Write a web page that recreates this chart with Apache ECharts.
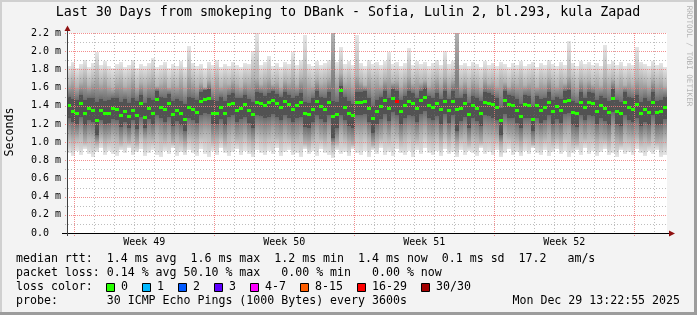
<!DOCTYPE html>
<html><head><meta charset="utf-8">
<script src="https://cdn.jsdelivr.net/npm/echarts@6/dist/echarts.min.js"></script>
<style>html,body{margin:0;padding:0;background:#f3f3f3}#c{width:697px;height:315px}</style>
</head><body><div id="c"></div>
<script>
// ---------------- data ----------------
const titleText = 'Last 30 Days from smokeping to DBank - Sofia, Lulin 2, bl.293, kula Zapad';
const weekLabels = ['Week 49', 'Week 50', 'Week 51', 'Week 52'];
const totalDays = 30;
const colDays = 0.2;          // each column = 4.8 h
const firstDayLine = 0.365;   // first midnight after graph start (days)
const yMax = 2.2;

const median = [
 1.40,1.34,1.32,1.42,1.32,1.37,1.35,1.24,1.35,1.32,
 1.32,1.37,1.36,1.29,1.34,1.28,1.35,1.29,1.42,1.27,
 1.37,1.32,1.47,1.38,1.36,1.43,1.30,1.35,1.31,1.25,
 1.38,1.36,1.33,1.45,1.47,1.48,1.32,1.32,1.38,1.32,
 1.41,1.43,1.35,1.37,1.41,1.35,1.30,1.44,1.43,1.40,
 1.44,1.46,1.42,1.38,1.45,1.41,1.36,1.40,1.44,1.31,
 1.30,1.36,1.45,1.39,1.36,1.44,1.28,1.30,1.57,1.38,
 1.32,1.29,1.44,1.44,1.45,1.37,1.26,1.34,1.39,1.46,
 1.37,1.48,1.45,1.34,1.40,1.45,1.43,1.37,1.46,1.49,
 1.40,1.38,1.43,1.36,1.45,1.35,1.45,1.36,1.37,1.42,
 1.30,1.40,1.37,1.32,1.44,1.43,1.41,1.38,1.24,1.46,
 1.41,1.40,1.35,1.28,1.41,1.40,1.25,1.40,1.35,1.38,
 1.44,1.34,1.39,1.35,1.45,1.46,1.33,1.31,1.44,1.38,
 1.44,1.43,1.34,1.40,1.37,1.33,1.48,1.34,1.32,1.44,
 1.38,1.36,1.41,1.32,1.36,1.33,1.44,1.33,1.34,1.38];

const smokeHi1 = [
 1.84,1.88,1.82,1.86,1.90,1.83,1.87,1.99,1.85,1.89,
 1.84,1.81,1.86,1.88,1.83,1.85,1.90,1.82,1.86,1.84,
 1.87,1.93,1.83,1.85,1.88,1.82,1.86,1.84,1.89,1.83,
 2.06,1.87,1.84,1.86,1.82,1.88,1.85,1.90,1.83,1.86,
 1.84,1.88,1.85,1.83,1.87,1.86,2.00,2.20,1.85,1.88,
 1.95,1.84,1.87,1.83,1.88,1.86,1.99,1.85,1.90,2.18,
 1.86,1.84,1.89,1.85,1.87,1.90,2.20,1.88,2.05,1.86,
 1.89,1.85,2.18,1.87,1.84,1.90,1.86,1.88,1.85,1.89,
 1.99,1.86,1.88,1.84,1.87,2.03,1.85,1.89,1.86,1.88,
 1.84,1.87,1.90,1.85,2.00,1.86,1.89,2.20,1.85,1.87,
 1.84,1.88,1.86,1.83,1.89,1.85,1.87,1.84,1.88,1.86,
 1.83,1.87,1.85,1.89,1.84,1.86,1.88,1.83,1.87,1.85,
 1.90,1.86,1.84,1.88,1.85,2.11,1.87,1.84,1.89,1.86,
 1.88,1.85,1.87,1.84,2.07,1.86,1.89,1.85,1.88,1.84,
 1.87,1.85,2.05,1.88,1.86,1.84,1.89,1.85,1.87,1.83];

const smokeHi2 = [
 1.64,1.68,1.62,1.66,1.70,1.63,1.67,1.72,1.65,1.69,
 1.63,1.60,1.66,1.68,1.62,1.65,1.70,1.61,1.66,1.64,
 1.67,1.71,1.62,1.65,1.68,1.61,1.66,1.63,1.69,1.62,
 1.74,1.67,1.63,1.66,1.61,1.68,1.64,1.70,1.62,1.66,
 1.64,1.68,1.65,1.62,1.67,1.66,1.72,1.70,1.64,1.68,
 1.71,1.64,1.67,1.62,1.68,1.66,1.72,1.64,1.70,1.74,
 1.66,1.63,1.69,1.65,1.67,1.70,2.20,1.68,1.76,1.66,
 1.69,1.64,1.74,1.67,1.63,1.70,1.66,1.68,1.64,1.69,
 1.72,1.66,1.68,1.63,1.67,1.73,1.65,1.69,1.66,1.68,
 1.63,1.67,1.70,1.65,1.72,1.66,1.69,2.20,1.64,1.67,
 1.63,1.68,1.66,1.62,1.69,1.65,1.67,1.63,1.68,1.66,
 1.62,1.67,1.65,1.69,1.63,1.66,1.68,1.62,1.67,1.65,
 1.70,1.66,1.63,1.68,1.65,1.73,1.67,1.63,1.69,1.66,
 1.68,1.64,1.67,1.63,1.72,1.66,1.69,1.64,1.68,1.63,
 1.67,1.64,1.71,1.68,1.66,1.63,1.69,1.65,1.67,1.62];

const smokeHi3 = [
 1.50,1.47,1.46,1.52,1.46,1.49,1.48,1.44,1.47,1.45,
 1.46,1.49,1.48,1.44,1.47,1.43,1.48,1.45,1.52,1.43,
 1.49,1.46,1.56,1.50,1.48,1.53,1.45,1.47,1.45,1.42,
 1.50,1.48,1.46,1.55,1.57,1.58,1.46,1.45,1.50,1.45,
 1.52,1.54,1.48,1.49,1.52,1.47,1.44,1.55,1.54,1.51,
 1.54,1.56,1.53,1.50,1.55,1.52,1.48,1.51,1.54,1.44,
 1.43,1.48,1.56,1.50,1.48,1.55,1.45,1.44,1.62,1.50,
 1.45,1.42,1.55,1.55,1.56,1.49,1.40,1.46,1.50,1.56,
 1.49,1.58,1.56,1.46,1.51,1.56,1.54,1.48,1.56,1.59,
 1.51,1.49,1.54,1.47,1.56,1.47,1.56,1.48,1.49,1.53,
 1.43,1.51,1.48,1.45,1.55,1.54,1.52,1.49,1.38,1.56,
 1.52,1.51,1.47,1.42,1.52,1.51,1.40,1.51,1.47,1.49,
 1.55,1.46,1.50,1.47,1.56,1.57,1.45,1.43,1.55,1.49,
 1.55,1.54,1.46,1.51,1.48,1.45,1.58,1.46,1.44,1.55,
 1.50,1.48,1.52,1.44,1.48,1.45,1.55,1.45,1.46,1.50];

const smokeLo3 = [
 1.26,1.22,1.20,1.28,1.19,1.24,1.22,1.08,1.24,1.20,
 1.21,1.25,1.24,1.17,1.22,1.15,1.24,1.14,1.28,1.16,
 1.25,1.20,1.30,1.26,1.22,1.28,1.18,1.23,1.19,1.12,
 1.26,1.24,1.21,1.30,1.32,1.31,1.20,1.20,1.25,1.19,
 1.28,1.30,1.22,1.25,1.28,1.21,1.16,1.30,1.29,1.26,
 1.28,1.31,1.28,1.24,1.30,1.27,1.22,1.26,1.28,1.17,
 1.15,1.22,1.30,1.25,1.22,1.30,1.05,1.16,1.30,1.24,
 1.18,1.15,1.30,1.30,1.31,1.22,1.10,1.20,1.25,1.31,
 1.23,1.33,1.30,1.20,1.26,1.30,1.29,1.22,1.31,1.34,
 1.26,1.24,1.29,1.20,1.31,1.21,1.30,1.12,1.23,1.28,
 1.16,1.26,1.23,1.18,1.30,1.29,1.27,1.24,1.08,1.31,
 1.27,1.26,1.21,1.15,1.27,1.26,1.12,1.26,1.21,1.24,
 1.30,1.20,1.25,1.21,1.31,1.32,1.19,1.17,1.30,1.24,
 1.30,1.29,1.20,1.26,1.23,1.19,1.33,1.20,1.18,1.30,
 1.24,1.22,1.27,1.18,1.22,1.19,1.30,1.19,1.20,1.25];

const smokeLo2 = [
 1.06,1.02,1.04,1.08,1.00,1.05,1.03,0.98,1.06,1.01,
 1.03,1.07,1.05,0.99,1.04,1.00,1.06,0.98,1.08,1.02,
 1.05,1.03,1.09,1.06,1.02,1.07,1.00,1.04,1.01,0.97,
 1.06,1.04,1.02,1.08,1.10,1.09,1.01,1.02,1.06,1.00,
 1.07,1.09,1.03,1.05,1.08,1.02,0.99,1.09,1.07,1.05,
 1.07,1.10,1.06,1.04,1.09,1.06,1.02,1.05,1.07,0.99,
 0.98,1.03,1.09,1.05,1.02,1.08,0.96,0.99,1.09,1.04,
 1.00,0.98,1.09,1.08,1.10,1.03,0.97,1.01,1.05,1.09,
 1.04,1.11,1.08,1.01,1.06,1.09,1.07,1.03,1.09,1.12,
 1.06,1.04,1.08,1.01,1.09,1.02,1.08,0.98,1.04,1.07,
 0.99,1.06,1.03,1.00,1.08,1.07,1.06,1.04,0.97,1.09,
 1.06,1.05,1.02,0.98,1.06,1.05,0.98,1.05,1.02,1.04,
 1.08,1.01,1.05,1.02,1.09,1.10,1.00,0.99,1.08,1.04,
 1.08,1.07,1.01,1.05,1.03,1.00,1.10,1.01,0.99,1.08,
 1.04,1.03,1.06,1.00,1.03,1.00,1.08,1.00,1.01,1.05];

const smokeLo1 = [
 0.88,0.85,0.90,0.86,0.92,0.87,0.84,0.89,0.93,0.86,
 0.90,0.87,0.85,0.91,0.88,0.94,0.86,0.89,0.92,0.85,
 0.88,0.91,0.86,0.84,0.90,0.87,0.93,0.85,0.89,0.86,
 0.91,0.88,0.85,0.92,0.87,0.84,0.90,0.86,0.93,0.88,
 0.85,0.89,0.92,0.86,0.90,0.87,0.84,0.91,0.88,0.86,
 0.90,0.87,0.93,0.85,0.89,0.91,0.86,0.88,0.84,0.92,
 0.87,0.90,0.85,0.92,0.88,0.86,0.83,0.91,0.87,0.89,
 0.85,0.92,0.88,0.86,0.90,0.84,0.91,0.87,0.93,0.86,
 0.89,0.85,0.92,0.88,0.86,0.90,0.84,0.91,0.87,0.93,
 0.88,0.86,0.90,0.85,0.92,0.87,0.89,0.84,0.91,0.86,
 0.90,0.88,0.85,0.93,0.87,0.89,0.86,0.91,0.84,0.88,
 0.92,0.86,0.89,0.85,0.90,0.87,0.93,0.88,0.86,0.91,
 0.85,0.89,0.92,0.87,0.90,0.84,0.88,0.91,0.86,0.93,
 0.87,0.90,0.85,0.89,0.92,0.86,0.88,0.84,0.91,0.87,
 0.89,0.86,0.92,0.88,0.85,0.90,0.87,0.91,0.84,0.86];

// columns with lost pings: [column index, loss class]
const lossEvents = [[82, '16-29']];
const lossClasses = ['0', '1', '2', '3', '4-7', '8-15', '16-29', '30/30'];
const lossColors = ['#26ff00', '#00b8ff', '#0059ff', '#5e00ff', '#ff00ff', '#ff5e00', '#ff0000', '#a10000'];

const statLine1 = 'median rtt:  1.4 ms avg  1.6 ms max  1.2 ms min  1.4 ms now  0.1 ms sd  17.2   am/s';
const statLine2 = 'packet loss: 0.14 % avg 50.10 % max   0.00 % min   0.00 % now';
const lossLabel = 'loss color:';
const probeLine = 'probe:       30 ICMP Echo Pings (1000 Bytes) every 3600s';
const dateText = 'Mon Dec 29 13:22:55 2025';
const yTitle = 'Seconds';
const watermark = 'RRDTOOL / TOBI OETIKER';

// ---------------- chart ----------------
const FONT = "'DejaVu Sans Mono', monospace";
const LIGHT = '#e6e6e6', MID = '#b2b2b2', DARK = '#6c6c6c', CORE = '#525252';
const MAJOR = '#f07a7a', MINOR = 'rgba(110,110,110,0.45)';

const smokeData = median.map((_, i) => [i * colDays, smokeLo1[i], smokeLo2[i], smokeLo3[i], smokeHi3[i], smokeHi2[i], smokeHi1[i]]);
const medianData = median.map((v, i) => [i * colDays, v]);
const lossByCol = {};
lossEvents.forEach(([c, cls]) => { lossByCol[c] = lossColors[lossClasses.indexOf(cls)]; });

// grid line specs: [value, horizontal?, major?]
const gridData = [];
for (let k = 0; firstDayLine + k < totalDays; k++) gridData.push([firstDayLine + k, 0, k % 7 === 0 ? 1 : 0]);
for (let k = 1; k <= 22; k++) gridData.push([k / 10, 1, k % 2 === 0 ? 1 : 0]);
const weekLabelPos = weekLabels.map((_, k) => firstDayLine + 3.5 + 7 * k);

function grad(top, bottom) {
  return new echarts.graphic.LinearGradient(0, 0, 0, 1, [{offset: 0, color: top}, {offset: 1, color: bottom}]);
}
function smokeItem(params, api) {
  const d0 = api.value(0);
  const xa = Math.round(api.coord([d0, 0])[0]);
  const xb = Math.round(api.coord([d0 + colDays, 0])[0]);
  const py = k => Math.round(api.coord([d0, Math.min(api.value(k), yMax)])[1]);
  const p = [py(1), py(2), py(3), py(4), py(5), py(6)];
  const spec = [[p[1], p[0], MID, LIGHT], [p[2], p[1], DARK, MID], [p[3], p[2], CORE, CORE], [p[4], p[3], MID, DARK], [p[5], p[4], LIGHT, MID]];
  return {type: 'group', children: spec.map(([t, b, ct, cb]) => ({
    type: 'rect', shape: {x: xa, y: t, width: xb - xa, height: Math.max(0, b - t)},
    style: {fill: ct === cb ? ct : grad(ct, cb)}
  }))};
}
function medianItem(params, api) {
  const d0 = api.value(0), v = api.value(1);
  const xa = Math.round(api.coord([d0, 0])[0]);
  const xb = Math.round(api.coord([d0 + colDays, 0])[0]);
  const yc = api.coord([d0, v])[1];
  return {type: 'rect', shape: {x: xa, y: Math.round(yc - 1.5), width: xb - xa, height: 3},
    style: {fill: lossByCol[params.dataIndex] || lossColors[0]}};
}
function gridItem(params, api) {
  const g = gridData[params.dataIndex];
  const v = g[0], horiz = g[1] === 1, major = g[2] === 1;
  const style = {stroke: major ? MAJOR : MINOR, lineWidth: 1, lineDash: major ? [1, 1] : [1, 2], fill: null, opacity: major ? 0.85 : 1};
  if (horiz) {
    const y = Math.round(api.coord([0, v])[1]) + 0.5;
    return {type: 'line', shape: {x1: api.coord([0, v])[0] - 2, y1: y, x2: api.coord([totalDays, v])[0], y2: y}, style};
  }
  const x = Math.round(api.coord([v, 0])[0]) + 0.5;
  return {type: 'line', shape: {x1: x, y1: api.coord([v, yMax])[1], x2: x, y2: api.coord([v, 0])[1] + (major ? 3 : 0)}, style};
}

function txt(x, y, text, opts) {
  opts = opts || {};
  const st = Object.assign({text: text, font: '11.6px ' + FONT, fill: '#000',
    align: 'left', textAlign: 'left', verticalAlign: 'middle', textVerticalAlign: 'middle'}, opts.style || {});
  if (st.textAlign) st.align = st.textAlign;
  const el = {type: 'text', x: x, y: y, silent: true, z: 110, style: st};
  if (opts.rotation) el.rotation = opts.rotation;
  return el;
}

const graphics = [
  {type: 'rect', shape: {x: 0, y: 0, width: 697, height: 2}, style: {fill: '#d0d0d0'}, z: 100},
  {type: 'rect', shape: {x: 0, y: 0, width: 2, height: 315}, style: {fill: '#d0d0d0'}, z: 100},
  {type: 'rect', shape: {x: 694, y: 0, width: 3, height: 315}, style: {fill: '#9c9c9c'}, z: 100},
  {type: 'rect', shape: {x: 0, y: 312, width: 697, height: 3}, style: {fill: '#9c9c9c'}, z: 100},
  {type: 'line', shape: {x1: 62, y1: 233.5, x2: 670, y2: 233.5}, style: {stroke: '#000', lineWidth: 1}, z: 100},
  {type: 'line', shape: {x1: 67.5, y1: 236, x2: 67.5, y2: 30}, style: {stroke: '#404040', lineWidth: 1}, z: 100},
  {type: 'polygon', shape: {points: [[669, 230.5], [675, 233.5], [669, 236.5]]}, style: {fill: '#8f1010'}, z: 101},
  {type: 'polygon', shape: {points: [[64.5, 31], [67.5, 25.5], [70.5, 31]]}, style: {fill: '#8f1010'}, z: 101},
  txt(348, 13, titleText, {style: {font: '13.3px ' + FONT, textAlign: 'center'}}),
  txt(10, 132, yTitle, {rotation: Math.PI / 2, style: {textAlign: 'center'}}),
  txt(689, 56, watermark, {rotation: -Math.PI / 2, style: {font: '7.6px ' + FONT, fill: '#b4b4b4', textAlign: 'center'}}),
  txt(16, 259, statLine1),
  txt(16, 273, statLine2),
  txt(16, 287, lossLabel),
  txt(16, 301, probeLine),
  txt(680, 301, dateText, {style: {textAlign: 'right'}})
];
let bx = 106;
lossClasses.forEach((lbl, k) => {
  graphics.push({type: 'rect', shape: {x: bx + 0.5, y: 283.5, width: 8, height: 8}, style: {fill: lossColors[k], stroke: '#000', lineWidth: 1}, z: 100});
  graphics.push(txt(bx + 15, 287, lbl));
  bx += 29 + lbl.length * 7;
});

const chart = echarts.init(document.getElementById('c'), null, {renderer: 'canvas'});
chart.setOption({
  backgroundColor: '#f3f3f3',
  animation: false,
  grid: {left: 67, top: 33, width: 600, height: 200, show: true, backgroundColor: '#ffffff', borderWidth: 0},
  xAxis: {type: 'value', min: 0, max: totalDays,
    axisLine: {show: false}, axisTick: {show: false}, splitLine: {show: false},
    axisLabel: {customValues: weekLabelPos, margin: 4, fontFamily: FONT, fontSize: 10, color: '#000',
      formatter: v => { let b = 0; weekLabelPos.forEach((p, k) => { if (Math.abs(p - v) < Math.abs(weekLabelPos[b] - v)) b = k; }); return weekLabels[b]; }}},
  yAxis: {type: 'value', min: 0, max: yMax, interval: 0.2,
    axisLine: {show: false}, axisTick: {show: false}, splitLine: {show: false},
    axisLabel: {align: 'left', margin: 36, fontFamily: FONT, fontSize: 10, color: '#000',
      formatter: v => v < 1e-9 ? '0.0' : v.toFixed(1) + ' m'}},
  series: [
    {type: 'custom', name: 'smoke', data: smokeData, renderItem: smokeItem, encode: {x: 0, y: 1}, z: 2, silent: true},
    {type: 'custom', name: 'grid', data: gridData, renderItem: gridItem, encode: {x: 0, y: 1}, z: 3, silent: true},
    {type: 'custom', name: 'median', data: medianData, renderItem: medianItem, encode: {x: 0, y: 1}, z: 4, silent: true}
  ],
  graphic: graphics
});
</script></body></html>
